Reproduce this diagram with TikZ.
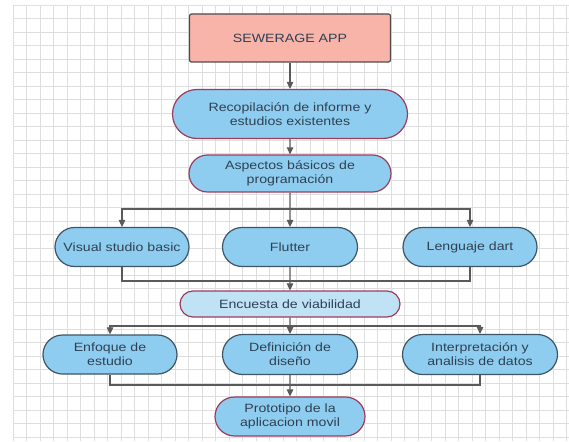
\documentclass[tikz,border=0pt]{standalone}
\usepackage{fontspec}
\setmainfont{Liberation Sans}[FakeStretch=1.18]
\usetikzlibrary{shapes.misc,arrows.meta}
\definecolor{gridc}{HTML}{DEDEDE}
\definecolor{salmon}{HTML}{F8B4A8}
\definecolor{sky}{HTML}{8FCDF0}
\definecolor{skylight}{HTML}{BFE3F5}
\definecolor{maroon}{HTML}{9C3C5C}
\definecolor{slate}{HTML}{3E5566}
\definecolor{txt}{HTML}{2E4152}
\definecolor{linec}{HTML}{5A5A5A}
\tikzset{
  gridline/.style={draw=gridc, line width=0.6pt},
  topbox/.style={rectangle, rounded corners=2pt, draw=black!70, line width=1.2pt, fill=salmon, minimum width=201pt, minimum height=48pt, inner sep=0pt, text=txt},
  pill/.style={rounded rectangle, line width=1.2pt, fill=sky, inner sep=0pt, align=center, text=txt, font=\fontsize{12}{14}\selectfont},
  pillr/.style={pill, draw=maroon},
  pills/.style={pill, draw=slate},
  conn/.style={draw=linec, line width=1.1pt},
  arr/.style={conn, -{Triangle[length=7pt,width=6.5pt]}}
}
\begin{document}
\begin{tikzpicture}[x=1pt,y=-1pt]
\useasboundingbox (0,0) rectangle (569,441);
\fill[white] (0,0) rectangle (569,441);
\foreach \i in {0,...,41} \draw[gridline] (13+\i*13.5,5) -- (13+\i*13.5,441);
\foreach \j in {0,...,32} \draw[gridline] (13,5+\j*13.5) -- (569,5+\j*13.5);

\node[topbox, font=\fontsize{12}{14}\selectfont] (app) at (290,38) {SEWERAGE APP};
\node[pillr, minimum width=235pt, minimum height=49pt] (rec) at (290,114) {Recopilación de informe y\\estudios existentes};
\node[pillr, minimum width=202pt, minimum height=37pt] (asp) at (290,173.5) {Aspectos básicos de\\programación};

\node[pills, minimum width=134pt, minimum height=39pt] (vsb) at (122,247) {Visual studio basic};
\node[pills, minimum width=135pt, minimum height=39pt] (flu) at (290,247) {Flutter};
\node[pills, minimum width=134pt, minimum height=39pt] (dar) at (470,247) {Lenguaje dart};

\node[pillr, fill=skylight, minimum width=220pt, minimum height=26pt] (enc) at (290,304) {Encuesta de viabilidad};

\node[pills, minimum width=134pt, minimum height=39pt] (enf) at (110,354.5) {Enfoque de\\estudio};
\node[pills, minimum width=135pt, minimum height=40pt] (def) at (290,354.5) {Definición de\\diseño};
\node[pills, minimum width=155pt, minimum height=40pt] (int) at (480,354.5) {Interpretación y\\analisis de datos};

\node[pillr, minimum width=150pt, minimum height=39pt] (pro) at (290,416.5) {Prototipo de la\\aplicacion movil};

\coordinate (b1) at (290,209);
\coordinate (m1) at (290,281);
\coordinate (b2) at (290,326);
\coordinate (m2) at (290,385);

\draw[arr] (app) -- (rec);
\draw[arr] (rec) -- (asp);
\draw[arr] (asp) -- (flu);
\draw[arr] (b1) -| (vsb);
\draw[arr] (b1) -| (dar);
\draw[arr] (flu) -- (enc);
\draw[conn] (vsb.south) |- (m1);
\draw[conn] (dar.south) |- (m1);
\draw[arr] (enc) -- (def);
\draw[arr] (b2) -| (enf);
\draw[arr] (b2) -| (int);
\draw[arr] (def) -- (pro);
\draw[conn] (enf.south) |- (m2);
\draw[conn] (int.south) |- (m2);
\end{tikzpicture}
\end{document}
